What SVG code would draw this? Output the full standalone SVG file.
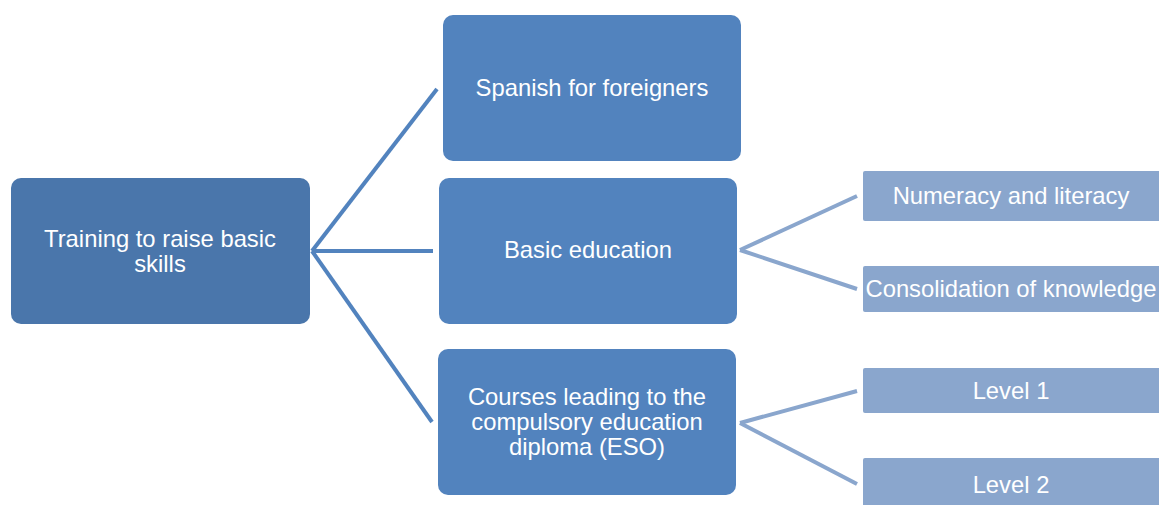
<svg xmlns="http://www.w3.org/2000/svg" width="1159" height="505" viewBox="0 0 1159 505">
<style>
.root{fill:#4a76ab}
.mid{fill:#5283be}
.leaf{fill:#8aa6cd}
.t{font-family:"Liberation Sans",Arial,sans-serif;font-size:23.8px;fill:#ffffff;text-anchor:middle}
.c1{stroke:#5283be;stroke-width:4;fill:none}
.c2{stroke:#8aa6cd;stroke-width:4;fill:none}
</style>
<rect width="1159" height="505" fill="#ffffff"/>
<g id="connectors">
<line class="c1" x1="312" y1="251" x2="437" y2="89"/>
<line class="c1" x1="312" y1="251" x2="433" y2="251"/>
<line class="c1" x1="312" y1="251" x2="432" y2="422"/>
<line class="c2" x1="740" y1="250" x2="857" y2="196"/>
<line class="c2" x1="740" y1="250" x2="857" y2="289"/>
<line class="c2" x1="740" y1="423" x2="857" y2="391"/>
<line class="c2" x1="740" y1="423" x2="857" y2="484"/>
</g>
<g id="root">
<rect class="root" x="11" y="178" width="299" height="146" rx="10"/>
<text class="t" x="160" y="247">Training to raise basic</text>
<text class="t" x="160" y="272">skills</text>
</g>
<g id="spanish">
<rect class="mid" x="443" y="15" width="298" height="146" rx="10"/>
<text class="t" x="592" y="96">Spanish for foreigners</text>
</g>
<g id="basic">
<rect class="mid" x="439" y="178" width="298" height="146" rx="10"/>
<text class="t" x="588" y="258">Basic education</text>
</g>
<g id="courses">
<rect class="mid" x="438" y="349" width="298" height="146" rx="10"/>
<text class="t" x="587" y="405">Courses leading to the</text>
<text class="t" x="587" y="430">compulsory education</text>
<text class="t" x="587" y="455">diploma (ESO)</text>
</g>
<g id="numeracy">
<rect class="leaf" x="863" y="171" width="300" height="50" rx="2"/>
<text class="t" x="1011" y="204">Numeracy and literacy</text>
</g>
<g id="consolidation">
<rect class="leaf" x="863" y="266" width="300" height="46" rx="2"/>
<text class="t" x="1011" y="297">Consolidation of knowledge</text>
</g>
<g id="level1">
<rect class="leaf" x="863" y="368" width="300" height="45" rx="2"/>
<text class="t" x="1011" y="399">Level 1</text>
</g>
<g id="level2">
<rect class="leaf" x="863" y="458" width="300" height="50" rx="2"/>
<text class="t" x="1011" y="493">Level 2</text>
</g>
</svg>
